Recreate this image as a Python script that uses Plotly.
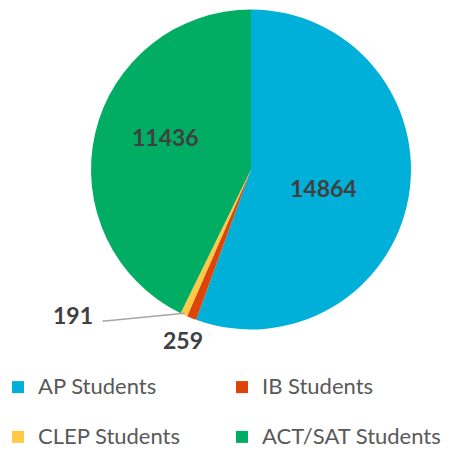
import math
import plotly.graph_objects as go

categories = ["AP Students", "IB Students", "CLEP Students", "ACT/SAT Students"]
values = [14864, 259, 191, 11436]
colors = ["#00B0D8", "#DD4408", "#FFC845", "#00AD63"]

# page body has an 8px margin, so the figure is sized to fill the rest of the window
W, H = 448, 442
CX, CY, R = 243, 161.5, 160  # pie centre / radius in figure pixels

LABEL_FONT = dict(family="Lato", size=23, color="#404040", weight="bold")
# label placement: (radius factor, angle nudge in degrees) per slice
label_place = {0: (0.47, 4.6), 1: (1.15, 0.0), 3: (0.57, 7.6)}

total = sum(values)
legend_labels = [f"<span style='font-size:22px'>{c}</span><br> " for c in categories]

fig = go.Figure(go.Pie(
    labels=legend_labels,
    values=values,
    sort=False,
    direction="clockwise",
    rotation=0,
    marker=dict(colors=colors, line=dict(width=0)),
    textinfo="none",
    domain=dict(x=[(CX - R) / W, (CX + R) / W], y=[(H - CY - R) / H, (H - CY + R) / H]),
    hoverinfo="value",
))


def polar_px(idx, rfac, nudge=0.0):
    start = sum(values[:idx])
    mid = math.radians((start + values[idx] / 2) / total * 360 + nudge)
    return CX + R * rfac * math.sin(mid), CY - R * rfac * math.cos(mid)


def to_paper(px, py):
    return px / W, (H - py) / H


for idx, (rfac, nudge) in label_place.items():
    lx, ly = to_paper(*polar_px(idx, rfac, nudge))
    fig.add_annotation(x=lx, y=ly, xref="paper", yref="paper", text=str(values[idx]),
                       xanchor="center", yanchor="middle",
                       showarrow=False, font=LABEL_FONT)

# CLEP label with a leader line
ex, ey = polar_px(2, 0.99)
lx0, ly0 = ex - 82, ey + 8
fig.add_shape(type="line", xref="paper", yref="paper",
              x0=ex / W, y0=(H - ey) / H, x1=lx0 / W, y1=(H - ly0) / H,
              line=dict(color="#A6A6A6", width=1.5))
tx, ty = to_paper(lx0 - 30, ly0 - 6)
fig.add_annotation(x=tx, y=ty, xref="paper", yref="paper", text=str(values[2]),
                   xanchor="center", yanchor="middle",
                   showarrow=False, font=LABEL_FONT)

fig.update_layout(
    width=W, height=H,
    margin=dict(l=0, r=0, t=0, b=0, autoexpand=False),
    paper_bgcolor="white",
    showlegend=True,
    legend=dict(
        orientation="h",
        x=(W - 10) / W, xanchor="right",
        y=0.1835, yanchor="top",
        entrywidth=179, entrywidthmode="pixels",
        font=dict(family="Lato", size=18, color="#595959"),
        valign="top",
        itemclick=False,
    ),
)

fig.write_html("out.html")
